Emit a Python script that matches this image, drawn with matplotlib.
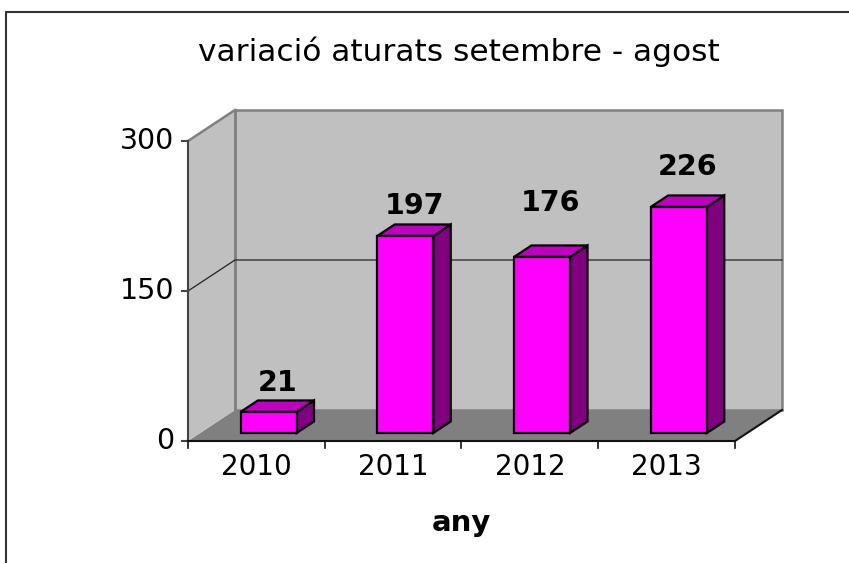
import matplotlib.pyplot as plt
from matplotlib.patches import Polygon
from matplotlib.lines import Line2D

years = ['2010', '2011', '2012', '2013']
values = [21, 197, 176, 226]
yticks = [0, 150, 300]
title = 'variació aturats setembre - agost'
xlabel = 'any'

# 3d look: depth offset of the back wall, in data units
DX = 47 / 136.75   # category units
DY = 31            # value units
ymax = 300
bar_w = 0.41
bar_z0, bar_z1 = 0.26, 0.63   # front / back of the bars as a fraction of the depth
label_pad = [29, 30, 54, 40]

W, H = 849, 563
fig = plt.figure(figsize=(W / 100, H / 100), dpi=100)
ax = fig.add_axes([0, 0, 1, 1])
# map the figure so one value unit = one pixel and one category = 136.75 px
x_left = -0.5 - 188 / 136.75
ax.set_xlim(x_left, x_left + W / 136.75)
ax.set_ylim(441 - H, 441)
ax.axis('off')

n = len(years)
x0, x1 = -0.5, n - 0.5


def pt(x, y, z):
    return (x + z * DX, y + z * DY)


wall = '#c0c0c0'
edge_gray = '#808080'
# floor
ax.add_patch(Polygon([pt(x0, 0, 0), pt(x1, 0, 0), pt(x1, 0, 1), pt(x0, 0, 1)],
                     closed=True, facecolor='#808080', edgecolor='none', zorder=1))
# left wall
ax.add_patch(Polygon([pt(x0, 0, 0), pt(x0, ymax, 0), pt(x0, ymax, 1), pt(x0, 0, 1)],
                     closed=True, facecolor=wall, edgecolor='none', zorder=1))
# back wall
ax.add_patch(Polygon([pt(x0, 0, 1), pt(x0, ymax, 1), pt(x1, ymax, 1), pt(x1, 0, 1)],
                     closed=True, facecolor=wall, edgecolor=edge_gray, lw=1.8, zorder=1))
# left wall outline
for a, b in [((x0, ymax, 0), (x0, ymax, 1)), ((x0, 0, 1), (x0, ymax, 1))]:
    p, q = pt(*a), pt(*b)
    ax.plot([p[0], q[0]], [p[1], q[1]], color=edge_gray, lw=1.8, zorder=2)

# gridlines
for v in yticks[1:-1]:
    p, q, r = pt(x0, v, 0), pt(x0, v, 1), pt(x1, v, 1)
    ax.plot([p[0], q[0], r[0]], [p[1], q[1], r[1]], color='#222222', lw=0.9, zorder=2)

# value axis
ax.plot([x0, x0], [0, ymax], color='#444444', lw=1.5, zorder=3)
for v in yticks:
    ax.plot([x0 - 0.045, x0], [v, v], color='#444444', lw=1.5, zorder=3)
    ax.text(x0 - 0.1, v, str(v), ha='right', va='center', fontsize=20.5, zorder=5)

# category axis
p, q = pt(x1, 0, 0), pt(x1, 0, 1)
ax.plot([x0, x1, q[0]], [0, 0, q[1]], color='#111111', lw=1.5, zorder=3)
for i in range(n + 1):
    ax.plot([x0 + i, x0 + i], [0, -7], color='#111111', lw=1.2, zorder=3)
for i, yr in enumerate(years):
    ax.text(i, -26, yr, ha='center', va='center', fontsize=20, zorder=5)
ax.text((x0 + x1) / 2, -82, xlabel, ha='center', va='center', fontsize=21,
        fontweight='bold', zorder=5)

# bars
for i, v in enumerate(values):
    l, r = i - bar_w / 2, i + bar_w / 2
    front = [pt(l, 0, bar_z0), pt(r, 0, bar_z0), pt(r, v, bar_z0), pt(l, v, bar_z0)]
    side = [pt(r, 0, bar_z0), pt(r, 0, bar_z1), pt(r, v, bar_z1), pt(r, v, bar_z0)]
    top = [pt(l, v, bar_z0), pt(r, v, bar_z0), pt(r, v, bar_z1), pt(l, v, bar_z1)]
    for poly, fc in [(side, '#800080'), (top, '#c000c0'), (front, '#ff00ff')]:
        ax.add_patch(Polygon(poly, closed=True, facecolor=fc, edgecolor='black',
                             lw=1.6, joinstyle='miter', zorder=4))
    lx, ly = pt(i, v, (bar_z0 + bar_z1) / 2)
    ax.text(lx, pt(i, v, bar_z0)[1] + label_pad[i], str(v), ha='center', va='center',
            fontsize=20.5, fontweight='bold', zorder=5)

# title
ax.text(0.54, 1 - 52 / H, title, transform=fig.transFigure, ha='center',
        va='center', fontsize=22.5)

# chart area border (top and left only visible)
fig.add_artist(Line2D([6 / W, 6 / W, 1], [0, 1 - 12 / H, 1 - 12 / H],
                      transform=fig.transFigure, color='#333333', lw=1.5))

fig.savefig('out.png', dpi=100)
